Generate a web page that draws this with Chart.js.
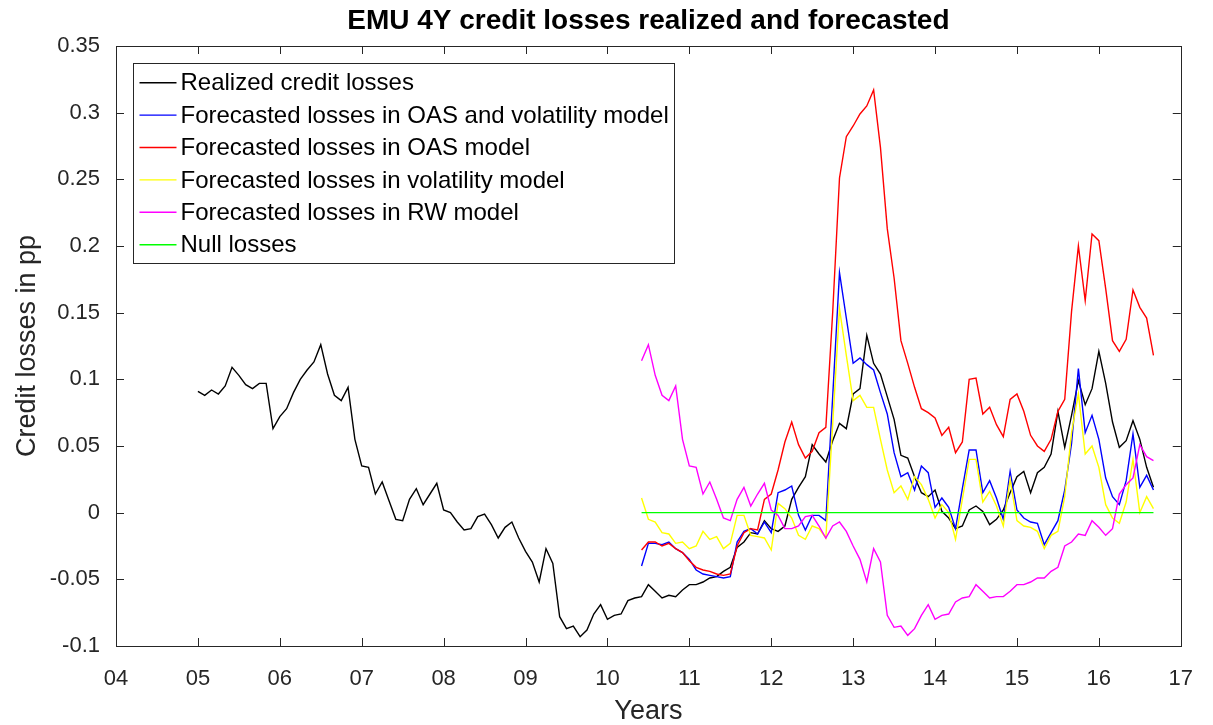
<!DOCTYPE html>
<html>
<head>
<meta charset="utf-8">
<title>EMU 4Y credit losses realized and forecasted</title>
<script src="https://cdn.jsdelivr.net/npm/chart.js@4.4.1/dist/chart.umd.min.js"></script>
<style>
  html, body { margin: 0; padding: 0; background: #fff; }
  #wrap { width: 1213px; height: 725px; }
</style>
</head>
<body>
<div id="wrap"><canvas id="chart" width="1213" height="725"></canvas></div>
<script>
// monthly series; realized starts Jan 2005, forecasts start Jun 2010
const realizedStart = 2005;
const forecastStart = 2010 + 5 / 12;

const realized = [
  0.091, 0.088, 0.092, 0.089, 0.095, 0.109, 0.103, 0.096, 0.093, 0.097, 0.097, 0.063,
  0.072, 0.078, 0.090, 0.100, 0.107, 0.113, 0.126, 0.104, 0.088, 0.084, 0.094, 0.055,
  0.035, 0.034, 0.014, 0.023, 0.009, -0.005, -0.006, 0.010, 0.018, 0.006, 0.014, 0.022,
  0.002, 0.000, -0.007, -0.013, -0.012, -0.003, -0.001, -0.009, -0.019, -0.011, -0.007, -0.019,
  -0.029, -0.037, -0.052, -0.027, -0.038, -0.078, -0.087, -0.085, -0.093, -0.088, -0.076, -0.069,
  -0.080, -0.077, -0.076, -0.066, -0.064, -0.063, -0.054, -0.059, -0.064, -0.062, -0.063, -0.058,
  -0.054, -0.054, -0.052, -0.049, -0.048, -0.044, -0.041, -0.026, -0.022, -0.015, -0.016, -0.006,
  -0.012, -0.014, -0.010, 0.010, 0.019, 0.027, 0.051, 0.044, 0.038, 0.054, 0.067, 0.063,
  0.089, 0.093, 0.133, 0.112, 0.104, 0.087, 0.070, 0.043, 0.041, 0.027, 0.015, 0.012,
  0.017, 0.001, -0.004, -0.012, -0.010, 0.002, 0.005, 0.001, -0.009, -0.005, 0.002, 0.015,
  0.027, 0.031, 0.015, 0.030, 0.034, 0.044, 0.076, 0.049, 0.073, 0.099, 0.081, 0.093,
  0.121, 0.097, 0.068, 0.049, 0.054, 0.069, 0.055, 0.034, 0.019
];

const oasVolModel = [
  -0.040, -0.023, -0.023, -0.024, -0.022, -0.027, -0.030,
  -0.035, -0.043, -0.046, -0.047, -0.048, -0.049, -0.048, -0.022, -0.014, -0.012, -0.016, -0.007,
  -0.015, 0.015, 0.017, 0.020, -0.002, -0.013, -0.002, -0.002, -0.006, 0.087, 0.180, 0.146,
  0.112, 0.116, 0.111, 0.107, 0.090, 0.074, 0.045, 0.027, 0.030, 0.017, 0.035, 0.030,
  0.004, 0.011, 0.004, -0.012, 0.018, 0.047, 0.047, 0.015, 0.024, 0.011, -0.005, 0.031,
  0.002, -0.004, -0.007, -0.008, -0.024, -0.015, -0.006, 0.017, 0.052, 0.108, 0.060, 0.073,
  0.055, 0.026, 0.012, 0.006, 0.024, 0.059, 0.019, 0.028, 0.017
];

const oasModel = [
  -0.028, -0.022, -0.022, -0.025, -0.023, -0.027, -0.030,
  -0.036, -0.041, -0.043, -0.044, -0.046, -0.047, -0.046, -0.025, -0.015, -0.012, -0.013, 0.010,
  0.014, 0.032, 0.053, 0.068, 0.051, 0.041, 0.046, 0.060, 0.064, 0.150, 0.251, 0.282,
  0.290, 0.299, 0.305, 0.317, 0.274, 0.213, 0.176, 0.129, 0.112, 0.094, 0.078, 0.075,
  0.071, 0.058, 0.064, 0.045, 0.053, 0.100, 0.101, 0.074, 0.079, 0.066, 0.057, 0.085,
  0.089, 0.076, 0.058, 0.050, 0.046, 0.055, 0.076, 0.085, 0.151, 0.200, 0.159, 0.209,
  0.204, 0.168, 0.129, 0.121, 0.130, 0.167, 0.154, 0.146, 0.118
];

const volModel = [
  0.011, -0.005, -0.007, -0.015, -0.016, -0.023, -0.022,
  -0.027, -0.025, -0.014, -0.020, -0.018, -0.027, -0.023, -0.002, -0.002, -0.017, -0.018, -0.019,
  -0.028, 0.007, 0.003, -0.004, -0.017, -0.020, -0.010, -0.012, -0.019, 0.066, 0.153, 0.118,
  0.084, 0.088, 0.079, 0.079, 0.055, 0.032, 0.015, 0.020, 0.010, 0.027, 0.021, 0.010,
  -0.004, 0.006, 0.000, -0.020, 0.010, 0.040, 0.040, 0.008, 0.016, 0.005, -0.010, 0.025,
  -0.006, -0.010, -0.011, -0.014, -0.027, -0.017, -0.014, 0.012, 0.060, 0.089, 0.044, 0.050,
  0.034, 0.006, -0.004, -0.008, 0.008, 0.040, 0.000, 0.012, 0.003
];

const rwModel = [
  0.114, 0.126, 0.103, 0.088, 0.084, 0.095, 0.055,
  0.035, 0.034, 0.014, 0.023, 0.010, -0.004, -0.006, 0.010, 0.019, 0.005, 0.014, 0.022,
  0.002, -0.002, -0.012, -0.012, -0.010, -0.003, -0.002, -0.010, -0.019, -0.010, -0.007, -0.014,
  -0.025, -0.035, -0.052, -0.027, -0.037, -0.077, -0.086, -0.085, -0.092, -0.087, -0.077, -0.069,
  -0.080, -0.077, -0.076, -0.067, -0.064, -0.063, -0.054, -0.059, -0.064, -0.063, -0.063, -0.059,
  -0.054, -0.054, -0.052, -0.049, -0.049, -0.044, -0.041, -0.025, -0.022, -0.016, -0.017, -0.006,
  -0.011, -0.017, -0.012, 0.014, 0.021, 0.026, 0.051, 0.042, 0.039
];

// flat line over the forecast window (first and last forecast month)
const nullLosses = [0, 0];

const xTickValues = [2004, 2005, 2006, 2007, 2008, 2009, 2010, 2011, 2012, 2013, 2014, 2015, 2016, 2017];
const xTickLabels = ['04', '05', '06', '07', '08', '09', '10', '11', '12', '13', '14', '15', '16', '17'];
const yTickValues = [-0.1, -0.05, 0, 0.05, 0.1, 0.15, 0.2, 0.25, 0.3, 0.35];
const yTickLabels = ['-0.1', '-0.05', '0', '0.05', '0.1', '0.15', '0.2', '0.25', '0.3', '0.35'];

const seriesLabels = [
  'Realized credit losses',
  'Forecasted losses in OAS and volatility model',
  'Forecasted losses in OAS model',
  'Forecasted losses in volatility model',
  'Forecasted losses in RW model',
  'Null losses'
];
const seriesColors = ['#000000', '#0000ff', '#ff0000', '#ffff00', '#ff00ff', '#00ff00'];
const chartTitle = 'EMU 4Y credit losses realized and forecasted';

const fontFamily = "'Liberation Sans', Arial, Helvetica, sans-serif";
const axisColor = '#262626';

const monthly = (start, values) => values.map((v, i) => ({ x: start + i / 12, y: v }));
const lastForecastMonth = forecastStart + (oasModel.length - 1) / 12;

const allSeries = [
  monthly(realizedStart, realized),
  monthly(forecastStart, oasVolModel),
  monthly(forecastStart, oasModel),
  monthly(forecastStart, volModel),
  monthly(forecastStart, rwModel),
  [{ x: forecastStart, y: nullLosses[0] }, { x: lastForecastMonth, y: nullLosses[1] }]
];

// title centred over the axes box rather than the whole canvas
const axesTitle = {
  id: 'axesTitle',
  afterDraw(chart) {
    const { ctx, chartArea: a } = chart;
    ctx.save();
    ctx.font = `bold 28px ${fontFamily}`;
    ctx.fillStyle = '#000000';
    ctx.textAlign = 'center';
    ctx.textBaseline = 'middle';
    ctx.fillText(chartTitle, (a.left + a.right) / 2, a.top - 25);
    ctx.restore();
  }
};

// box around the axes with inward tick marks, like the original figure
const boxAxes = {
  id: 'boxAxes',
  afterDatasetsDraw(chart) {
    const { ctx, chartArea: a, scales: { x, y } } = chart;
    const len = 8;
    ctx.save();
    ctx.strokeStyle = axisColor;
    ctx.lineWidth = 1;
    ctx.strokeRect(Math.round(a.left) + 0.5, Math.round(a.top) + 0.5,
      Math.round(a.right - a.left), Math.round(a.bottom - a.top));
    ctx.beginPath();
    x.ticks.forEach(t => {
      const px = Math.round(x.getPixelForValue(t.value)) + 0.5;
      ctx.moveTo(px, a.bottom); ctx.lineTo(px, a.bottom - len);
      ctx.moveTo(px, a.top); ctx.lineTo(px, a.top + len);
    });
    y.ticks.forEach(t => {
      const py = Math.round(y.getPixelForValue(t.value)) + 0.5;
      ctx.moveTo(a.left, py); ctx.lineTo(a.left + len, py);
      ctx.moveTo(a.right, py); ctx.lineTo(a.right - len, py);
    });
    ctx.stroke();
    ctx.restore();
  }
};

// legend drawn in a framed box in the upper-left corner of the plot
const boxLegend = {
  id: 'boxLegend',
  afterDraw(chart) {
    const { ctx, chartArea: a } = chart;
    const fontSize = 24, rowH = 32.4, padY = 3;
    const sampleStart = 6, sampleEnd = 43, textStart = 47, padRight = 6;
    const items = chart.data.datasets;
    ctx.save();
    ctx.font = `${fontSize}px ${fontFamily}`;
    const textW = Math.max(...items.map(d => ctx.measureText(d.label).width));
    const x0 = Math.round(a.left + 17) + 0.5;
    const y0 = Math.round(a.top + 17) + 0.5;
    const w = Math.round(textStart + textW + padRight);
    const h = Math.round(rowH * items.length + padY * 2);
    ctx.fillStyle = '#ffffff';
    ctx.fillRect(x0, y0, w, h);
    ctx.strokeStyle = axisColor;
    ctx.lineWidth = 1;
    ctx.strokeRect(x0, y0, w, h);
    items.forEach((d, i) => {
      const cy = y0 + padY + rowH * (i + 0.5);
      ctx.beginPath();
      ctx.strokeStyle = d.borderColor;
      ctx.lineWidth = d.borderWidth;
      ctx.moveTo(x0 + sampleStart, cy);
      ctx.lineTo(x0 + sampleEnd, cy);
      ctx.stroke();
      ctx.fillStyle = '#000000';
      ctx.textBaseline = 'middle';
      ctx.textAlign = 'left';
      ctx.fillText(d.label, x0 + textStart, cy + 1);
    });
    ctx.restore();
  }
};

Chart.defaults.font.family = fontFamily;
Chart.defaults.color = axisColor;

new Chart(document.getElementById('chart'), {
  type: 'line',
  data: {
    datasets: allSeries.map((pts, i) => ({
      label: seriesLabels[i],
      data: pts,
      borderColor: seriesColors[i],
      backgroundColor: seriesColors[i],
      borderWidth: 1.4,
      pointRadius: 0,
      tension: 0,
      fill: false,
      order: allSeries.length - i
    }))
  },
  options: {
    responsive: false,
    animation: false,
    events: [],
    layout: { padding: { left: 0, right: 25, top: 46, bottom: 0 } },
    plugins: {
      legend: { display: false },
      tooltip: { enabled: false },
      title: { display: false }
    },
    scales: {
      x: {
        type: 'linear',
        min: 2004,
        max: 2017,
        grid: { display: false, drawTicks: false, tickLength: 0 },
        border: { display: false },
        afterBuildTicks: scale => { scale.ticks = xTickValues.map(v => ({ value: v })); },
        afterFit: scale => { scale.height = 79; },
        ticks: {
          autoSkip: false,
          maxRotation: 0,
          padding: 20,
          color: axisColor,
          font: { size: 22 },
          callback: (value, index) => xTickLabels[index]
        },
        title: {
          display: true,
          text: 'Years',
          color: axisColor,
          font: { size: 27, lineHeight: 1 },
          padding: { top: 0, bottom: 0 }
        }
      },
      y: {
        type: 'linear',
        min: -0.1,
        max: 0.35,
        grid: { display: false, drawTicks: false, tickLength: 0 },
        border: { display: false },
        afterBuildTicks: scale => { scale.ticks = yTickValues.map(v => ({ value: v })); },
        afterFit: scale => { scale.width = 116; },
        ticks: {
          autoSkip: false,
          padding: 16,
          color: axisColor,
          font: { size: 22 },
          callback: (value, index) => yTickLabels[index]
        },
        title: {
          display: true,
          text: 'Credit losses in pp',
          color: axisColor,
          font: { size: 27, lineHeight: 1 },
          padding: { top: 14, bottom: 0 }
        }
      }
    }
  },
  plugins: [boxAxes, boxLegend, axesTitle]
});
</script>
</body>
</html>
